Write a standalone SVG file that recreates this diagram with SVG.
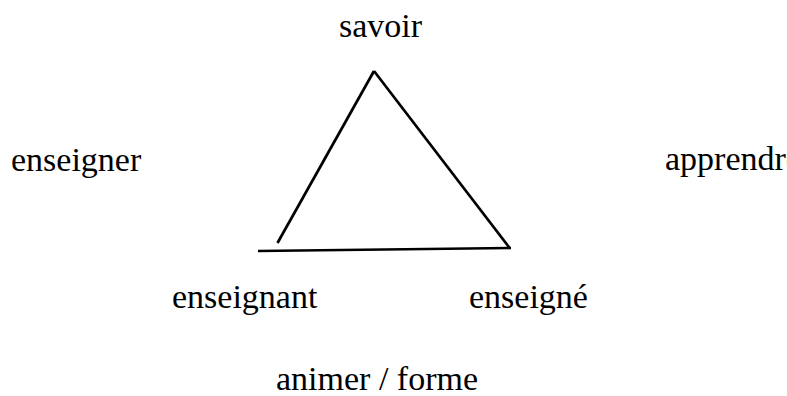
<svg xmlns="http://www.w3.org/2000/svg" width="787" height="396" viewBox="0 0 787 396">
<style>
text{font-family:"Liberation Serif","Times New Roman",serif;font-size:34px;fill:#000}
.l{stroke:#000;stroke-width:2.7;fill:none;stroke-linecap:butt}
</style>
<rect width="787" height="396" fill="#fff"/>
<g id="connectors">
<line class="l" x1="277.5" y1="243" x2="374" y2="71"/>
<line class="l" x1="374" y1="71" x2="510" y2="248.5"/>
<line class="l" x1="258" y1="251" x2="511" y2="248"/>
</g>
<g id="savoir"><text x="339" y="37">savoir</text></g>
<g id="enseigner"><text x="11" y="171">enseigner</text></g>
<g id="apprendre"><text x="665" y="170">apprendre</text></g>
<g id="enseignant"><text x="172" y="308">enseignant</text></g>
<g id="enseigne"><text x="469" y="308">enseigné</text></g>
<g id="animer"><text x="276" y="390">animer / forme</text></g>
</svg>
